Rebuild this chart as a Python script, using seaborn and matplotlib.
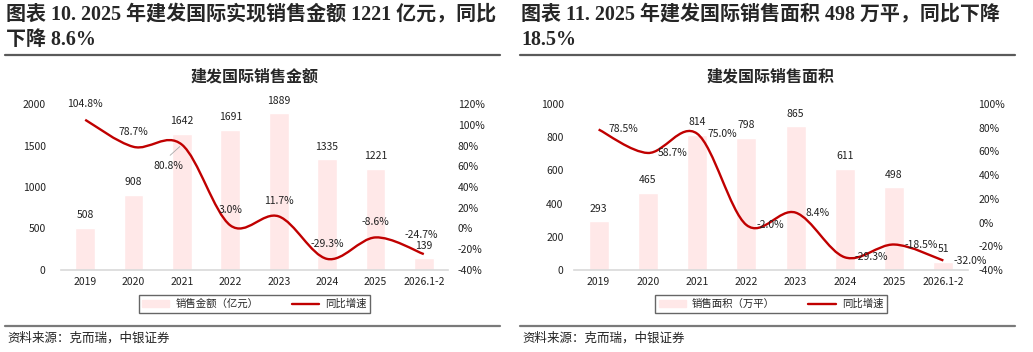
import matplotlib
matplotlib.use("Agg")
import matplotlib.pyplot as plt
import seaborn as sns
import numpy as np
import pandas as pd
from matplotlib.path import Path
from matplotlib.patches import PathPatch, Patch
from matplotlib.lines import Line2D

# datos
categorias = ["2019", "2020", "2021", "2022", "2023", "2024", "2025", "2026.1-2"]
monto = [508, 908, 1642, 1691, 1889, 1335, 1221, 139]
monto_yoy = [104.8, 78.7, 80.8, 3.0, 11.7, -29.3, -8.6, -24.7]
area = [293, 465, 814, 798, 865, 611, 498, 51]
area_yoy = [78.5, 58.7, 75.0, -2.0, 8.4, -29.3, -18.5, -32.0]

titulo_izq = ["图表 10. 2025 年建发国际实现销售金额 1221 亿元，同比", "下降 8.6%"]
titulo_der = ["图表 11. 2025 年建发国际销售面积 498 万平，同比下降", "18.5%"]
sub_izq = "建发国际销售金额"
sub_der = "建发国际销售面积"
leyenda_izq = ["销售金额（亿元）", "同比增速"]
leyenda_der = ["销售面积（万平）", "同比增速"]
fuente = "资料来源：克而瑞，中银证券"

sns.set_theme(style="white")
plt.rcParams['font.family'] = ['Noto Sans CJK SC', 'DejaVu Sans']
plt.rcParams['axes.unicode_minus'] = False

ROJO = "#C00000"
ROSA = "#FFE8E8"
FS = 7.5

fig = plt.figure(figsize=(10.33, 3.52), dpi=100)
W, H = 1033, 352


def px(x, y):
    return x / W, 1 - y / H


def curva_suave(ax, xs, ys, **kw):
    # curva tipo Excel (Bezier Catmull-Rom) a traves de los puntos
    P = np.column_stack([xs, ys]).astype(float)
    n = len(P)
    verts = [P[0]]
    codes = [Path.MOVETO]
    for i in range(n - 1):
        p0 = P[i - 1] if i > 0 else P[i]
        p1, p2 = P[i], P[i + 1]
        p3 = P[i + 2] if i + 2 < n else P[i + 1]
        c1 = p1 + (p2 - p0) / 6
        c2 = p2 - (p3 - p1) / 6
        verts += [c1, c2, p2]
        codes += [Path.CURVE4] * 3
    ax.add_patch(PathPatch(Path(verts, codes), fill=False, **kw))


def panel(x0, ax_l, ax_r, vals, yoy, ymax, ystep, pmax, titulo, sub, ley,
          lbl_pos, tick_pad_l, tick_pad_r):
    # cabecera
    fam_t = ['Liberation Serif', 'Noto Sans CJK SC']
    fig.text(*px(x0 + 6, 14), titulo[0], family=fam_t, weight='bold', fontsize=14.4, va='center')
    fig.text(*px(x0 + 6, 40), titulo[1], family=fam_t, weight='bold', fontsize=14.4, va='center')
    fig.add_artist(Line2D([(x0 + 5) / W, (x0 + 500) / W], [1 - 54.5 / H] * 2, color="#5a5a5a", lw=1.6))
    fig.add_artist(Line2D([(x0 + 5) / W, (x0 + 500) / W], [1 - 326 / H] * 2, color="#7a7a7a", lw=1.6))
    fig.text(*px(x0 + 7, 338), fuente, fontsize=9, va='center', color="#222222", style='italic')

    ax = fig.add_axes([ax_l / W, 1 - 270 / H, (ax_r - ax_l) / W, 166 / H])
    df = pd.DataFrame({"cat": categorias, "val": vals})
    sns.barplot(data=df, x="cat", y="val", color=ROSA, saturation=1, width=0.41, ax=ax)
    ax.set_ylim(0, ymax)
    ax.set_xlim(-0.5, len(categorias) - 0.5)
    ax.set_yticks(np.arange(0, ymax + 1, ystep))
    ax.set_xlabel("")
    ax.set_ylabel("")
    for s in ["top", "right", "left"]:
        ax.spines[s].set_visible(False)
    ax.spines["bottom"].set_color("#D9D9D9")
    ax.spines["bottom"].set_linewidth(1.2)
    ax.tick_params(axis='y', length=0, labelsize=FS, pad=tick_pad_l, labelcolor="#222222")
    ax.tick_params(axis='x', length=0, labelsize=FS, pad=5, labelcolor="#222222")
    ax.set_title(sub, fontsize=11.5, weight='bold', pad=16)
    for i, v in enumerate(vals):
        ax.annotate(str(v), (i, v), xytext=(0, 9), textcoords='offset points',
                    ha='center', va='center', fontsize=FS, color="#222222")

    ax2 = ax.twinx()
    ax2.set_ylim(-40, pmax)
    ax2.set_yticks(np.arange(-40, pmax + 1, 20))
    ax2.set_yticklabels([f"{t}%" for t in range(-40, pmax + 1, 20)])
    for s in ax2.spines.values():
        s.set_visible(False)
    ax2.tick_params(axis='y', length=0, labelsize=FS, pad=tick_pad_r, labelcolor="#222222")
    ax2.grid(False)
    curva_suave(ax2, np.arange(len(yoy)), yoy, ec=ROJO, lw=1.7, zorder=3)
    for i, v in enumerate(yoy):
        dx, dy, ha = lbl_pos[i]
        ax2.annotate(f"{v:.1f}%", (i, v), xytext=(dx, dy), textcoords='offset points',
                     ha=ha, va='center', fontsize=FS, color="#222222", zorder=4)

    ax.legend([Patch(color=ROSA), Line2D([], [], color=ROJO, lw=1.7)], ley,
              loc='center', bbox_to_anchor=(0.5, -0.205), ncol=2, fontsize=FS,
              frameon=True, fancybox=False, edgecolor="#404040", handlelength=2.6,
              columnspacing=3.2, borderpad=0.35, handletextpad=0.6)
    return ax, ax2


pos_izq = [(0, 11, 'center'), (0, 11, 'center'), (-10, -15, 'center'), (0, 11, 'center'),
           (0, 11, 'center'), (0, 11, 'center'), (0, 11, 'center'), (-2, 14, 'center')]
ax1, ax1b = panel(0, 61, 448, monto, monto_yoy, 2000, 500, 120, titulo_izq, sub_izq,
                  leyenda_izq, pos_izq, 11, 7)
# linea guia de 80.8%
ax1b.annotate("", (2, 80.8), xytext=(-10, -9), textcoords='offset points',
              arrowprops=dict(arrowstyle='-', color="#AAAAAA", lw=0.6))

pos_der = [(7.2, 0, 'left')] * 8
ax2, ax2b = panel(515, 574, 968, area, area_yoy, 1000, 200, 100, titulo_der, sub_der,
                  leyenda_der, pos_der, 7.5, 7.5)

fig.savefig("out.png", dpi=100)
